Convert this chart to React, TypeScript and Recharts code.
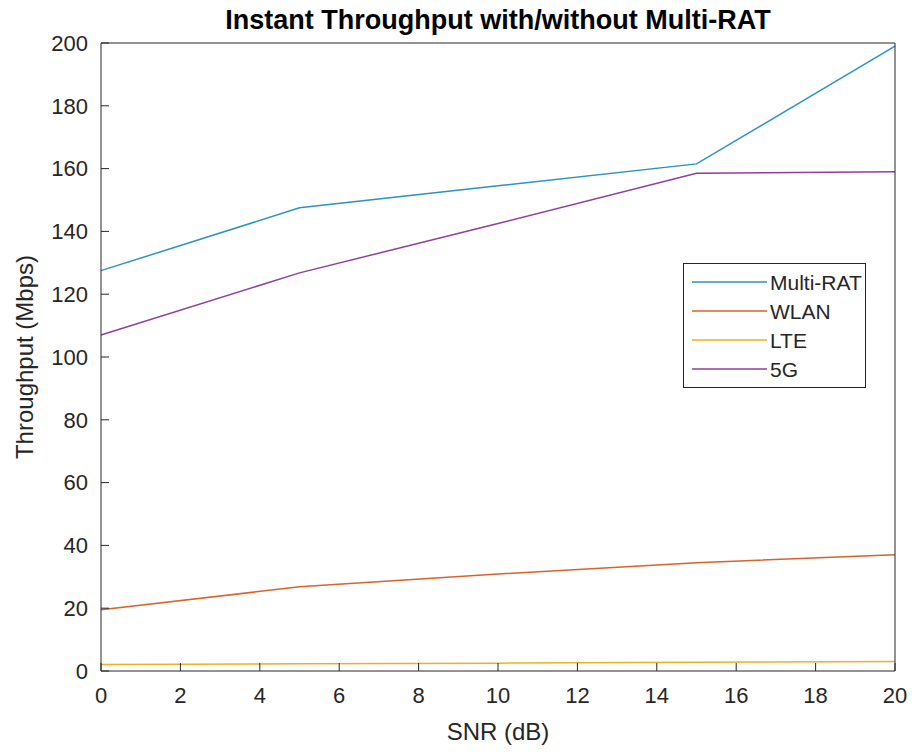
import { Legend, Line, LineChart, XAxis, YAxis } from "recharts";

const snr = [0, 5, 10, 15, 20];
const multiRat = [127.5, 147.5, 154.5, 161.5, 199];
const wlan = [19.5, 26.8, 30.9, 34.5, 37];
const lte = [2.1, 2.3, 2.5, 2.8, 3];
const fiveG = [107, 126.8, 142.5, 158.5, 159];

const seriesNames = ["Multi-RAT", "WLAN", "LTE", "5G"];
const xTicks = [0, 2, 4, 6, 8, 10, 12, 14, 16, 18, 20];
const yTicks = [0, 20, 40, 60, 80, 100, 120, 140, 160, 180, 200];

const data = snr.map((s, i) => ({
    snr: s,
    multiRat: multiRat[i],
    wlan: wlan[i],
    lte: lte[i],
    fiveG: fiveG[i],
}));

const axisColor = "#262626";
const font = "'Liberation Sans', Arial, Helvetica, sans-serif";

const LegendBox = (props: any) => {
    const items = [...(props.payload || [])].sort(
        (a: any, b: any) => seriesNames.indexOf(a.value) - seriesNames.indexOf(b.value)
    );
    return (
        <div style={{ border: "1px solid #262626", background: "#fff", width: 181, height: 123 }}>
            <svg width={181} height={123} style={{ display: "block" }}>
                {items.map((it: any, i: number) => {
                    const y = 18 + i * 29;
                    return (
                        <g key={it.value}>
                            <line x1={8} x2={83} y1={y} y2={y} stroke={it.color} strokeWidth={1.5} />
                            <text x={86} y={y} dominantBaseline="central" fontSize={21} fill={axisColor} fontFamily={font}>
                                {it.value}
                            </text>
                        </g>
                    );
                })}
            </svg>
        </div>
    );
};

const YLabel = () => (
    <text
        x={24}
        y={357}
        transform="rotate(-90 24 357)"
        textAnchor="middle"
        dominantBaseline="central"
        fontSize={24}
        fill={axisColor}
        fontFamily={font}
    >
        Throughput (Mbps)
    </text>
);

export default function App() {
    return (
        <div style={{ position: "absolute", left: 0, top: 0, width: 916, height: 755, background: "#fff", fontFamily: font }}>
            <div
                style={{
                    position: "absolute",
                    left: 101,
                    width: 794,
                    top: 4,
                    textAlign: "center",
                    fontSize: 27,
                    fontWeight: "bold",
                    color: "#000",
                    lineHeight: "32px",
                    whiteSpace: "nowrap",
                }}
            >
                Instant Throughput with/without Multi-RAT
            </div>
            <LineChart width={916} height={755} data={data} margin={{ top: 42, right: 20, left: 41, bottom: 0 }}>
                <XAxis
                    xAxisId="bottom"
                    dataKey="snr"
                    type="number"
                    domain={[0, 20]}
                    ticks={xTicks}
                    height={84}
                    stroke={axisColor}
                    tickSize={-8}
                    tickMargin={24}
                    tick={{ fontSize: 22, fill: axisColor, fontFamily: font }}
                    label={{ value: "SNR (dB)", position: "insideBottom", offset: 15, fontSize: 24, fill: axisColor, fontFamily: font }}
                />
                <XAxis
                    xAxisId="top"
                    orientation="top"
                    dataKey="snr"
                    type="number"
                    domain={[0, 20]}
                    ticks={xTicks}
                    height={1}
                    tick={false}
                    tickSize={-8}
                    stroke={axisColor}
                />
                <YAxis
                    yAxisId="left"
                    type="number"
                    domain={[0, 200]}
                    ticks={yTicks}
                    width={60}
                    stroke={axisColor}
                    tickSize={-8}
                    tickMargin={21}
                    tick={{ fontSize: 22, fill: axisColor, fontFamily: font }}
                    label={<YLabel />}
                />
                <YAxis
                    yAxisId="right"
                    orientation="right"
                    type="number"
                    domain={[0, 200]}
                    ticks={yTicks}
                    width={1}
                    tick={false}
                    tickSize={-8}
                    stroke={axisColor}
                />
                <Line xAxisId="bottom" yAxisId="left" type="linear" dataKey="multiRat" name="Multi-RAT" stroke="#2b93c0" strokeWidth={1.5} dot={false} isAnimationActive={false} />
                <Line xAxisId="bottom" yAxisId="left" type="linear" dataKey="wlan" name="WLAN" stroke="#d9622b" strokeWidth={1.5} dot={false} isAnimationActive={false} />
                <Line xAxisId="bottom" yAxisId="left" type="linear" dataKey="lte" name="LTE" stroke="#edb120" strokeWidth={1.5} dot={false} isAnimationActive={false} />
                <Line xAxisId="bottom" yAxisId="left" type="linear" dataKey="fiveG" name="5G" stroke="#8e3f9e" strokeWidth={1.5} dot={false} isAnimationActive={false} />
                <Legend
                    layout="horizontal"
                    align="center"
                    verticalAlign="middle"
                    content={<LegendBox />}
                    wrapperStyle={{ left: 683, top: 263, width: 183, height: 125 }}
                />
            </LineChart>
        </div>
    );
}
